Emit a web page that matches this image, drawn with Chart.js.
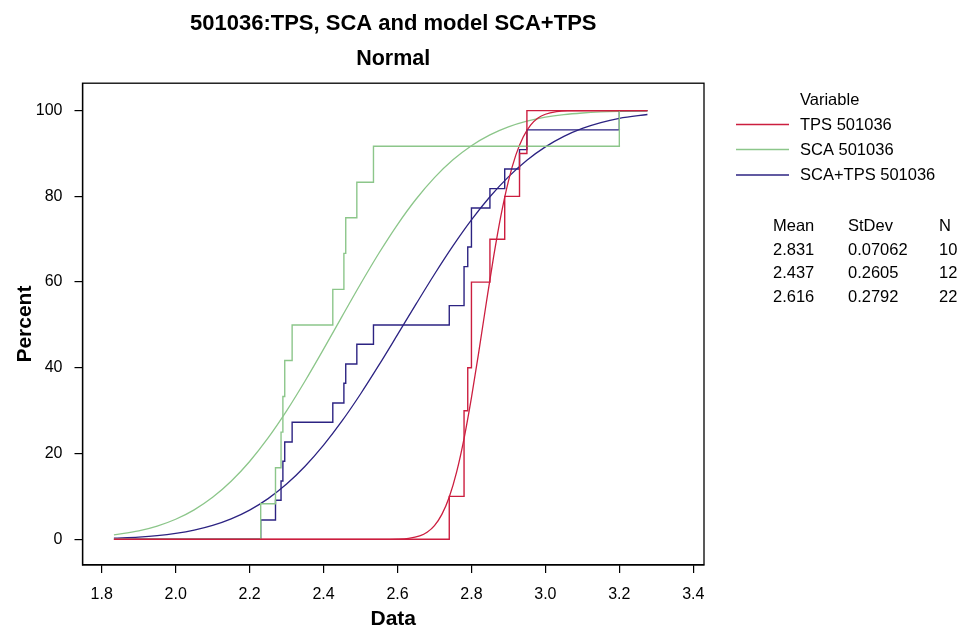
<!DOCTYPE html>
<html>
<head>
<meta charset="utf-8">
<script src="https://cdn.jsdelivr.net/npm/chart.js@4.4.1/dist/chart.umd.min.js"></script>
<style>
	html, body { margin: 0; padding: 0; background: #fff; }
	canvas { display: block; }
</style>
</head>
<body>
<canvas id="cdfChart" width="957" height="630"></canvas>
<script>
	// tick labels
	var xTicks = [1.8, 2.0, 2.2, 2.4, 2.6, 2.8, 3.0, 3.2, 3.4];
	var yTicks = [0, 20, 40, 60, 80, 100];

	// span covered by every line (left start, right end)
	var dataRange = [1.833, 3.276];

	/* Empirical CDF steps: where each jump happens and the percent after it */
	var tpsStepX = [2.74, 2.78, 2.79, 2.80, 2.85, 2.89, 2.93, 2.95];
	var tpsStepPct = [10, 30, 40, 60, 70, 80, 90, 100];

	var scaStepX = [2.23, 2.27, 2.285, 2.29, 2.295, 2.315, 2.425, 2.455, 2.46, 2.49, 2.535, 3.20];
	var scaStepPct = [8.3, 16.7, 25, 33.3, 41.7, 50, 58.3, 66.7, 75, 83.3, 91.7, 100];

	var bothStepX = [2.23, 2.27, 2.285, 2.29, 2.295, 2.315, 2.425, 2.455, 2.46, 2.49, 2.535,
		2.74, 2.78, 2.79, 2.80, 2.85, 2.89, 2.93, 2.95, 3.20];
	var bothStepPct = [4.5, 9.1, 13.6, 18.2, 22.7, 27.3, 31.8, 36.4, 40.9, 45.5, 50,
		54.5, 63.6, 68.2, 77.3, 81.8, 86.4, 90.9, 95.5, 100];

	/* Fitted normal curves */
	var tpsCurveX = [1.833, 2.55, 2.60, 2.63, 2.66, 2.68, 2.70, 2.72, 2.74, 2.76, 2.78, 2.80, 2.82,
		2.84, 2.86, 2.88, 2.90, 2.92, 2.94, 2.96, 2.98, 3.00, 3.03, 3.06, 3.276];
	var tpsCurvePct = [0, 0, 0.05, 0.22, 0.77, 1.63, 3.18, 5.8, 9.87, 15.74, 23.51, 33.03, 43.8,
		55.06, 65.93, 75.61, 83.57, 89.62, 93.86, 96.61, 98.26, 99.16, 99.76, 99.94, 100];

	var curveX = [1.833, 1.90, 1.95, 2.00, 2.05, 2.10, 2.15, 2.20, 2.25, 2.30, 2.35, 2.40, 2.45, 2.50, 2.55,
		2.60, 2.65, 2.70, 2.75, 2.80, 2.85, 2.90, 2.95, 3.00, 3.05, 3.10, 3.15, 3.20, 3.276];
	var scaCurvePct = [1.02, 1.96, 3.08, 4.67, 6.87, 9.79, 13.53, 18.15, 23.64, 29.95, 36.92, 44.35, 51.99, 59.55, 66.78,
		73.43, 79.33, 84.37, 88.53, 91.82, 94.35, 96.22, 97.55, 98.47, 99.07, 99.45, 99.69, 99.83, 99.94];
	var bothCurvePct = [0.25, 0.52, 0.85, 1.37, 2.13, 3.23, 4.76, 6.81, 9.49, 12.88, 17.03, 21.95, 27.6, 33.89, 40.67,
		47.73, 54.85, 61.83, 68.44, 74.51, 79.9, 84.54, 88.42, 91.54, 93.99, 95.85, 97.21, 98.18, 99.1];

	// legend and stats table
	var seriesNames = ['TPS 501036', 'SCA 501036', 'SCA+TPS 501036'];
	var statMean = ['2.831', '2.437', '2.616'];
	var statStDev = ['0.07062', '0.2605', '0.2792'];
	var statN = ['10', '12', '22'];

	var seriesColors = ['#cc1e3f', '#8cc68a', '#2c2382'];
	var fontFamily = '"Liberation Sans", Arial, Helvetica, sans-serif';

	function stepPoints(xs, pcts) {
		var pts = [{ x: dataRange[0], y: 0 }];
		for (var i = 0; i < xs.length; i++) pts.push({ x: xs[i], y: pcts[i] });
		pts.push({ x: dataRange[1], y: 100 });
		return pts;
	}
	function curvePoints(xs, pcts) {
		return xs.map(function (x, i) { return { x: x, y: pcts[i] }; });
	}

	var legendPlugin = {
		id: 'frameAndLegend',
		afterDraw: function (chart) {
			var ctx = chart.ctx, a = chart.chartArea;
			ctx.save();
			// box round the plot
			ctx.strokeStyle = '#000';
			ctx.lineWidth = 1.3;
			ctx.strokeRect(a.left, a.top, a.right - a.left, a.bottom - a.top);

			ctx.fillStyle = '#000';
			ctx.font = '16.5px ' + fontFamily;
			ctx.textBaseline = 'middle';
			ctx.textAlign = 'left';
			ctx.fillText('Variable', 800, 100.5);
			var rowsY = [125, 150, 175.5];
			for (var i = 0; i < seriesNames.length; i++) {
				ctx.strokeStyle = seriesColors[i];
				ctx.lineWidth = 1.5;
				ctx.beginPath();
				ctx.moveTo(736, rowsY[i] - 0.5);
				ctx.lineTo(789, rowsY[i] - 0.5);
				ctx.stroke();
				ctx.fillText(seriesNames[i], 800, rowsY[i]);
			}

			ctx.fillText('Mean', 773, 226.5);
			ctx.fillText('StDev', 848, 226.5);
			ctx.fillText('N', 939, 226.5);
			var statY = [250, 273.5, 297];
			for (var j = 0; j < statMean.length; j++) {
				ctx.fillText(statMean[j], 773, statY[j]);
				ctx.fillText(statStDev[j], 848, statY[j]);
				ctx.fillText(statN[j], 939, statY[j]);
			}
			ctx.restore();
		}
	};

	var ctx = document.getElementById('cdfChart').getContext('2d');

	var cdfChart = new Chart(ctx, {
		type: 'line',
		data: {
			datasets: [
				/* step lines */
				{
					label: seriesNames[0],
					data: stepPoints(tpsStepX, tpsStepPct),
					borderColor: seriesColors[0],
					borderWidth: 1.4,
					stepped: 'before'
				},
				{
					label: seriesNames[1],
					data: stepPoints(scaStepX, scaStepPct),
					borderColor: seriesColors[1],
					borderWidth: 1.4,
					stepped: 'before'
				},
				{
					label: seriesNames[2],
					data: stepPoints(bothStepX, bothStepPct),
					borderColor: seriesColors[2],
					borderWidth: 1.4,
					stepped: 'before'
				},
				/* fitted normal curves */
				{
					label: seriesNames[0] + ' fit',
					data: curvePoints(tpsCurveX, tpsCurvePct),
					borderColor: seriesColors[0],
					borderWidth: 1.3,
					cubicInterpolationMode: 'monotone'
				},
				{
					label: seriesNames[1] + ' fit',
					data: curvePoints(curveX, scaCurvePct),
					borderColor: seriesColors[1],
					borderWidth: 1.3,
					cubicInterpolationMode: 'monotone'
				},
				{
					label: seriesNames[2] + ' fit',
					data: curvePoints(curveX, bothCurvePct),
					borderColor: seriesColors[2],
					borderWidth: 1.3,
					cubicInterpolationMode: 'monotone'
				}
			]
		},
		options: {
			responsive: false,
			animation: false,
			devicePixelRatio: 1,
			elements: {
				point: { radius: 0, hoverRadius: 0 },
				line: { fill: false }
			},
			layout: {
				padding: { left: 0, right: 253, top: 0, bottom: 0 }
			},
			plugins: {
				legend: { display: false },
				tooltip: { enabled: false },
				title: {
					display: true,
					fullSize: false,
					text: '501036:TPS, SCA and model SCA+TPS',
					color: '#000',
					font: { family: fontFamily, size: 22, weight: 'bold', lineHeight: 1.2 },
					padding: { top: 10.5, bottom: 0 }
				},
				subtitle: {
					display: true,
					fullSize: false,
					text: 'Normal',
					color: '#000',
					font: { family: fontFamily, size: 21.5, weight: 'bold', lineHeight: 1.2 },
					padding: { top: 9.5, bottom: 11 }
				}
			},
			scales: {
				x: {
					type: 'linear',
					min: 1.748,
					max: 3.429,
					afterFit: function (scale) { scale.height = 65; },
					afterBuildTicks: function (scale) {
						scale.ticks = xTicks.map(function (v) { return { value: v }; });
					},
					grid: { drawOnChartArea: false, drawTicks: true, tickLength: 8, color: '#000', lineWidth: 1.2 },
					border: { display: true, color: '#000', width: 1.3 },
					ticks: {
						color: '#000',
						padding: 12,
						maxRotation: 0,
						font: { family: fontFamily, size: 16 },
						callback: function (v) { return Number(v).toFixed(1); }
					},
					title: {
						display: true,
						text: 'Data',
						color: '#000',
						font: { family: fontFamily, size: 21, weight: 'bold', lineHeight: 1 },
						padding: { top: 0, bottom: 0 }
					}
				},
				y: {
					type: 'linear',
					min: -6,
					max: 106.4,
					afterFit: function (scale) { scale.width = 82.5; },
					afterBuildTicks: function (scale) {
						scale.ticks = yTicks.map(function (v) { return { value: v }; });
					},
					grid: { drawOnChartArea: false, drawTicks: true, tickLength: 8, color: '#000', lineWidth: 1.2 },
					border: { display: true, color: '#000', width: 1.3 },
					ticks: {
						color: '#000',
						padding: 12,
						font: { family: fontFamily, size: 16 }
					},
					title: {
						display: true,
						text: 'Percent',
						color: '#000',
						font: { family: fontFamily, size: 21, weight: 'bold', lineHeight: 1.2 },
						padding: { top: 13, bottom: 0 }
					}
				}
			}
		},
		plugins: [legendPlugin]
	});
</script>
</body>
</html>
